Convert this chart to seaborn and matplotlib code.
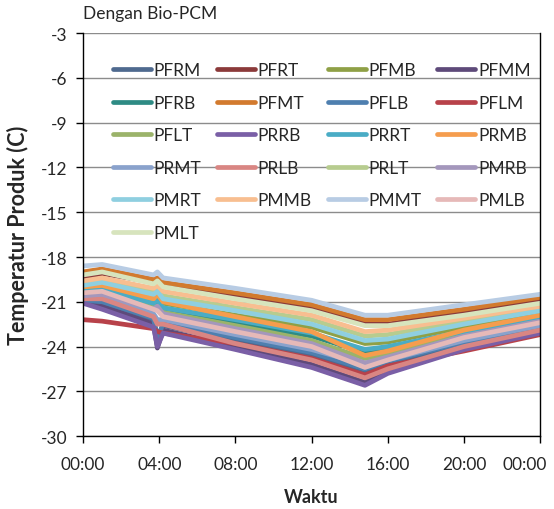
import numpy as np
import pandas as pd
import matplotlib
matplotlib.use("Agg")
import matplotlib.pyplot as plt
import matplotlib.transforms as mtransforms
import seaborn as sns

hours = [0, 1, 3.7, 3.9, 4.2, 8, 12, 14.8, 16, 20, 24]

series_names = ['PFRM', 'PFRT', 'PFMB', 'PFMM', 'PFRB', 'PFMT', 'PFLB', 'PFLM',
                'PFLT', 'PRRB', 'PRRT', 'PRMB', 'PRMT', 'PRLB', 'PRLT', 'PMRB',
                'PMRT', 'PMMB', 'PMMT', 'PMLB', 'PMLT']

series_colors = ['#4f6a8f', '#8b3a3a', '#8fa046', '#5e4a7a', '#2e8b84', '#d27a2e',
                 '#4e7faf', '#b8424a', '#9bb36a', '#7a5fa6', '#4aacc5', '#f59d4e',
                 '#8aa2cc', '#d98683', '#b7cc8f', '#a497bc', '#8fcfe0', '#f8be90',
                 '#b8cce4', '#e6b9b8', '#d7e4bd']

PFRM = [-21.0, -21.2, -22.2, -23.3, -22.6, -23.6, -24.6, -25.8, -25.2, -23.8, -22.8]
PFRT = [-19.4, -19.1, -19.7, -19.6, -19.9, -20.6, -21.4, -22.4, -22.5, -21.7, -20.9]
PFMB = [-20.3, -20.0, -20.8, -20.7, -21.1, -21.9, -22.7, -23.8, -23.7, -22.7, -21.8]
PFMM = [-21.0, -21.3, -22.5, -24.1, -22.9, -24.0, -25.2, -26.4, -25.6, -24.1, -23.0]
PFRB = [-20.5, -20.4, -21.3, -21.1, -21.6, -22.4, -23.3, -24.4, -24.2, -23.1, -22.1]
PFMT = [-19.0, -18.8, -19.5, -19.4, -19.7, -20.4, -21.2, -22.2, -22.2, -21.5, -20.7]
PFLB = [-20.9, -21.0, -22.1, -23.6, -22.4, -23.4, -24.4, -25.5, -25.0, -23.7, -22.7]
PFLM = [-22.2, -22.3, -22.8, -23.0, -23.1, -23.8, -24.8, -25.9, -25.3, -24.3, -23.2]
PFLT = [-20.2, -20.1, -21.2, -21.4, -21.7, -22.6, -23.6, -24.8, -24.5, -23.2, -22.2]
PRRB = [-21.1, -21.5, -22.7, -24.0, -23.1, -24.2, -25.4, -26.6, -25.8, -24.2, -23.1]
PRRT = [-20.3, -20.2, -21.1, -20.9, -21.4, -22.2, -23.1, -24.2, -24.0, -23.0, -22.0]
PRMB = [-20.0, -19.9, -20.8, -20.5, -21.0, -22.0, -23.0, -24.6, -24.3, -22.9, -21.9]
PRMT = [-20.7, -20.7, -21.8, -22.2, -22.2, -23.2, -24.2, -25.2, -24.9, -23.6, -22.6]
PRLB = [-20.8, -20.8, -22.0, -22.5, -22.5, -23.8, -24.9, -26.1, -25.5, -24.0, -22.9]
PRLT = [-19.8, -19.6, -20.3, -20.1, -20.6, -21.4, -22.2, -23.3, -23.2, -22.3, -21.5]
PMRB = [-20.6, -20.5, -21.5, -21.3, -21.8, -22.8, -23.8, -25.1, -24.7, -23.3, -22.3]
PMRT = [-19.9, -19.7, -20.5, -20.3, -20.8, -21.6, -22.5, -23.6, -23.5, -22.5, -21.6]
PMMB = [-19.6, -19.4, -20.1, -19.9, -20.3, -21.1, -21.9, -23.0, -22.9, -22.1, -21.3]
PMMT = [-18.6, -18.5, -19.2, -19.0, -19.4, -20.1, -20.9, -21.9, -21.9, -21.2, -20.5]
PMLB = [-20.4, -20.3, -21.5, -21.6, -22.0, -23.0, -24.0, -25.4, -24.9, -23.4, -22.4]
PMLT = [-19.2, -19.0, -19.8, -19.6, -20.0, -20.8, -21.6, -22.6, -22.6, -21.9, -21.1]

x_ticks = [0, 4, 8, 12, 16, 20, 24]
x_tick_labels = ['00:00', '04:00', '08:00', '12:00', '16:00', '20:00', '00:00']
y_ticks = [-30, -27, -24, -21, -18, -15, -12, -9, -6, -3]

values = [PFRM, PFRT, PFMB, PFMM, PFRB, PFMT, PFLB, PFLM, PFLT, PRRB, PRRT,
          PRMB, PRMT, PRLB, PRLT, PMRB, PMRT, PMMB, PMMT, PMLB, PMLT]

rows = []
for name, vals in zip(series_names, values):
    for h, v in zip(hours, vals):
        rows.append({'Waktu': h, 'Temp': v, 'Seri': name})
df = pd.DataFrame(rows)

sns.set_theme(style="white")
plt.rcParams['font.family'] = ['Lato', 'DejaVu Sans']
plt.rcParams['axes.unicode_minus'] = False

fig = plt.figure(figsize=(5.54, 5.10), dpi=100)
ax = fig.add_axes([0.150, 0.143, 0.825, 0.790])

sns.lineplot(data=df, x='Waktu', y='Temp', hue='Seri', hue_order=series_names,
             palette=dict(zip(series_names, series_colors)), linewidth=3.4,
             estimator=None, sort=False, ax=ax)

ax.set_xlim(0, 24)
ax.set_ylim(-30, -3)
ax.set_xticks(x_ticks)
ax.set_xticklabels(x_tick_labels)
ax.set_yticks(y_ticks)
ax.grid(axis='y', color='#8c8c8c', linewidth=1.0)
ax.set_axisbelow(True)
for side in ['left', 'bottom', 'right']:
    ax.spines[side].set_color('black')
    ax.spines[side].set_linewidth(1.0)
ax.spines['top'].set_visible(False)
ax.tick_params(axis='both', direction='out', length=5, width=1, color='black',
               labelsize=12.5, bottom=True, left=True)
ax.tick_params(axis='x', pad=9)
ax.tick_params(axis='y', pad=6)

# last "00:00" sits left of its tick so it fits inside the figure
last = ax.get_xticklabels()[-1]
last.set_transform(last.get_transform() +
                   mtransforms.ScaledTranslation(-0.15, 0, fig.dpi_scale_trans))

ax.set_xlabel('Waktu', fontsize=13, fontweight='bold', labelpad=12)
ax.set_ylabel('Temperatur Produk (C)', fontsize=15.5, fontweight='bold', labelpad=9)

# legend: row-major order like the original (matplotlib fills column by column)
handles, labels = ax.get_legend_handles_labels()
order = [i for c in range(4) for i in range(c, len(labels), 4)]
ax.legend([handles[i] for i in order], [labels[i] for i in order], ncol=4,
          loc='upper left', bbox_to_anchor=(0.05, 0.945), frameon=False,
          fontsize=12.5, handlelength=2.2, handletextpad=0.15,
          columnspacing=0.9, labelspacing=0.95, borderaxespad=0)

fig.text(0.150, 0.972, 'Dengan Bio-PCM', fontsize=12.5, va='center', ha='left')

fig.savefig('out.png', dpi=100)
